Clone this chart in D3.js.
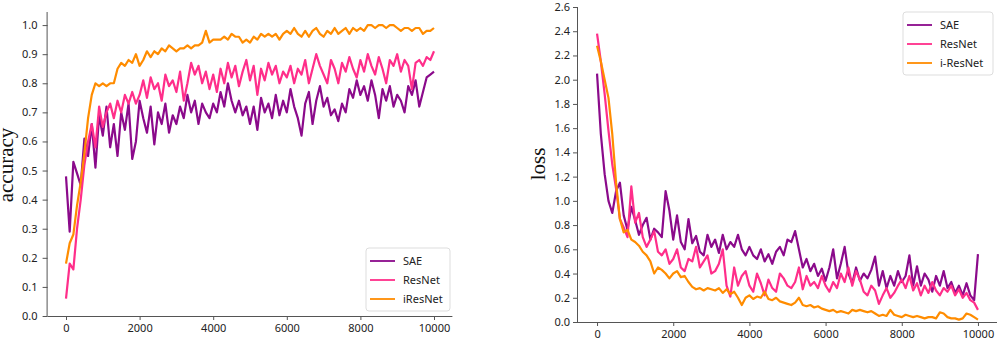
<!DOCTYPE html>
<head>
    <meta charset="utf-8">
    <title>accuracy / loss</title>
    <style>
        body { margin: 0; background: #fff; }
        .tick text { font-family: "Noto Sans", sans-serif; font-size: 11px; fill: #222; }
        .axis path, .axis line { stroke: #555; }
        .legend text { font-family: "Noto Sans", sans-serif; font-size: 11px; fill: #222; }
    </style>
</head>

<body>

<svg width="1003" height="341"></svg>

<script src="https://d3js.org/d3.v7.min.js"></script>

<script>
    // iterations, one reading every 100 steps
    const steps = d3.range(0, 10001, 100);

    const accSAE = [0.48, 0.29, 0.53, 0.49, 0.45, 0.61, 0.55, 0.66, 0.51, 0.69,
        0.62, 0.72, 0.58, 0.66, 0.55, 0.70, 0.64, 0.73, 0.54, 0.60,
        0.74, 0.68, 0.63, 0.72, 0.59, 0.70, 0.66, 0.73, 0.63, 0.69,
        0.66, 0.72, 0.68, 0.76, 0.70, 0.74, 0.66, 0.73, 0.70, 0.68,
        0.73, 0.70, 0.77, 0.72, 0.80, 0.74, 0.70, 0.74, 0.69, 0.72,
        0.66, 0.72, 0.64, 0.75, 0.70, 0.73, 0.68, 0.76, 0.69, 0.74,
        0.70, 0.78, 0.72, 0.68, 0.62, 0.73, 0.77, 0.66, 0.74, 0.79,
        0.72, 0.75, 0.69, 0.71, 0.67, 0.73, 0.70, 0.78, 0.75, 0.81,
        0.76, 0.79, 0.74, 0.81, 0.76, 0.68, 0.78, 0.74, 0.79, 0.72,
        0.76, 0.74, 0.70, 0.79, 0.76, 0.81, 0.72, 0.77, 0.82, 0.83, 0.84];

    const accResNet = [0.06, 0.18, 0.16, 0.30, 0.40, 0.52, 0.60, 0.66, 0.58, 0.72,
        0.65, 0.70, 0.73, 0.68, 0.74, 0.70, 0.76, 0.73, 0.77, 0.73,
        0.76, 0.81, 0.75, 0.82, 0.78, 0.80, 0.74, 0.83, 0.79, 0.81,
        0.77, 0.84, 0.74, 0.80, 0.87, 0.83, 0.86, 0.80, 0.84, 0.78,
        0.83, 0.77, 0.85, 0.80, 0.87, 0.82, 0.86, 0.79, 0.84, 0.88,
        0.81, 0.86, 0.76, 0.85, 0.81, 0.87, 0.83, 0.86, 0.80, 0.84,
        0.82, 0.86, 0.80, 0.85, 0.83, 0.88, 0.80, 0.85, 0.90, 0.86,
        0.83, 0.80, 0.88, 0.85, 0.80, 0.87, 0.84, 0.89, 0.85, 0.82,
        0.88, 0.84, 0.90, 0.86, 0.83, 0.89, 0.85, 0.80, 0.88, 0.86,
        0.90, 0.84, 0.88, 0.86, 0.78, 0.87, 0.88, 0.86, 0.89, 0.88, 0.91];

    const accIResNet = [0.18, 0.25, 0.28, 0.38, 0.46, 0.56, 0.68, 0.76, 0.80, 0.79,
        0.80, 0.79, 0.80, 0.80, 0.85, 0.87, 0.86, 0.88, 0.87, 0.90,
        0.86, 0.88, 0.91, 0.89, 0.91, 0.90, 0.92, 0.91, 0.93, 0.92,
        0.91, 0.92, 0.92, 0.93, 0.92, 0.93, 0.93, 0.94, 0.98, 0.94,
        0.95, 0.95, 0.95, 0.96, 0.95, 0.97, 0.96, 0.96, 0.94, 0.95,
        0.94, 0.96, 0.95, 0.97, 0.96, 0.97, 0.96, 0.97, 0.95, 0.97,
        0.98, 0.97, 0.99, 0.97, 0.96, 0.98, 0.96, 0.98, 0.99, 0.97,
        0.96, 0.98, 0.97, 0.99, 0.97, 0.98, 0.99, 0.97, 0.99, 0.98,
        0.99, 0.98, 1.00, 1.00, 0.99, 1.00, 1.00, 0.99, 1.00, 1.00,
        0.99, 0.98, 0.99, 0.99, 0.98, 0.99, 0.99, 0.97, 0.98, 0.98, 0.99];

    const lossSAE = [2.05, 1.55, 1.22, 1.00, 0.90, 1.08, 1.15, 0.88, 0.76, 0.95,
        0.84, 0.72, 0.80, 0.86, 0.68, 0.77, 0.74, 0.70, 1.08, 0.92,
        0.68, 0.88, 0.66, 0.60, 0.85, 0.65, 0.71, 0.58, 0.55, 0.72,
        0.62, 0.68, 0.57, 0.72, 0.60, 0.66, 0.62, 0.72, 0.60, 0.55,
        0.62, 0.55, 0.52, 0.60, 0.50, 0.56, 0.48, 0.58, 0.62, 0.55,
        0.68, 0.66, 0.75, 0.60, 0.45, 0.52, 0.42, 0.48, 0.38, 0.44,
        0.34, 0.45, 0.60, 0.36, 0.48, 0.62, 0.40, 0.32, 0.45, 0.34,
        0.40, 0.36, 0.43, 0.54, 0.30, 0.42, 0.28, 0.38, 0.30, 0.42,
        0.33, 0.38, 0.55, 0.30, 0.46, 0.30, 0.40, 0.35, 0.25, 0.38,
        0.30, 0.42, 0.28, 0.33, 0.24, 0.30, 0.22, 0.32, 0.22, 0.18, 0.56];

    const lossResNet = [2.38, 2.15, 1.88, 1.58, 1.30, 1.10, 0.85, 0.78, 0.70, 1.12,
        0.82, 0.90, 0.70, 0.62, 0.68, 0.75, 0.58, 0.55, 0.60, 0.48,
        0.52, 0.60, 0.45, 0.42, 0.52, 0.50, 0.62, 0.45, 0.50, 0.55,
        0.40, 0.42, 0.48, 0.60, 0.30, 0.21, 0.45, 0.30, 0.38, 0.42,
        0.30, 0.25, 0.40, 0.32, 0.22, 0.35, 0.28, 0.25, 0.40, 0.36,
        0.30, 0.28, 0.33, 0.45, 0.27, 0.38, 0.30, 0.33, 0.28, 0.38,
        0.30, 0.25, 0.33, 0.28, 0.40, 0.33, 0.45, 0.30, 0.42, 0.35,
        0.25, 0.22, 0.30, 0.26, 0.15, 0.22, 0.28, 0.20, 0.24, 0.30,
        0.35, 0.28, 0.38, 0.26, 0.32, 0.22, 0.30, 0.24, 0.33, 0.26,
        0.22, 0.28, 0.25, 0.30, 0.22, 0.27, 0.20, 0.24, 0.18, 0.16, 0.10];

    const lossIResNet = [2.28, 2.15, 2.00, 1.85, 1.55, 1.15, 0.85, 0.74, 0.76, 0.68,
        0.66, 0.63, 0.58, 0.55, 0.50, 0.40, 0.45, 0.43, 0.40, 0.36,
        0.40, 0.42, 0.37, 0.38, 0.33, 0.29, 0.27, 0.28, 0.26, 0.28,
        0.27, 0.26, 0.28, 0.24, 0.27, 0.23, 0.25, 0.20, 0.14, 0.20,
        0.22, 0.19, 0.21, 0.20, 0.25, 0.19, 0.18, 0.20, 0.17, 0.16,
        0.15, 0.14, 0.16, 0.20, 0.14, 0.13, 0.14, 0.12, 0.13, 0.11,
        0.10, 0.09, 0.10, 0.08, 0.09, 0.08, 0.07, 0.10, 0.09, 0.10,
        0.09, 0.08, 0.09, 0.07, 0.05, 0.06, 0.05, 0.10, 0.06, 0.05,
        0.04, 0.06, 0.05, 0.04, 0.05, 0.04, 0.03, 0.04, 0.04, 0.03,
        0.08, 0.07, 0.04, 0.03, 0.03, 0.02, 0.03, 0.07, 0.06, 0.04, 0.02];

    const accNames = ["SAE", "ResNet", "iResNet"];
    const lossNames = ["SAE", "ResNet", "i-ResNet"];
    const colors = ["#8b0a8b", "#ff2e8a", "#ff8c00"];

    const svg = d3.select("svg");

    function drawPanel(opt) {
        const x = d3.scaleLinear().domain([-500, 10500]).range(opt.xRange);
        const y = d3.scaleLinear().domain(opt.yDomain).range(opt.yRange);

        const g = svg.append("g");

        const line = d3.line()
            .x((d, i) => x(steps[i]))
            .y(d => y(d));

        g.selectAll(".series")
            .data(opt.series)
            .enter().append("path")
            .attr("class", "series")
            .attr("fill", "none")
            .attr("stroke", (d, i) => colors[i])
            .attr("stroke-width", 2.2)
            .attr("stroke-linejoin", "round")
            .attr("d", d => line(d));

        g.append("g")
            .attr("class", "axis")
            .attr("transform", `translate(0,${opt.yRange[0]})`)
            .call(d3.axisBottom(x).tickValues([0, 2000, 4000, 6000, 8000, 10000])
                .tickSize(4).tickPadding(4).tickFormat(d3.format("d")))
            .call(a => a.select(".domain").attr("d", `M${opt.xRange[0]},0.5H${opt.xRange[1]}`));

        g.append("g")
            .attr("class", "axis")
            .attr("transform", `translate(${opt.xRange[0]},0)`)
            .call(d3.axisLeft(y).tickValues(opt.yTicks).tickSize(5).tickPadding(opt.yPad)
                .tickFormat(d3.format(".1f")))
            .call(a => a.select(".domain").attr("d", `M-0.5,${opt.yRange[0]}V${opt.yRange[1]}`));

        g.append("text")
            .attr("transform", `translate(${opt.labelX},${opt.labelY}) rotate(-90)`)
            .attr("text-anchor", "middle")
            .style("font-family", "'Liberation Serif', 'Times New Roman', serif")
            .style("font-size", "21px")
            .style("fill", "#111")
            .text(opt.label);

        // legend
        const lg = g.append("g")
            .attr("class", "legend")
            .attr("transform", `translate(${opt.legend[0]},${opt.legend[1]})`);

        lg.append("rect")
            .attr("width", opt.legendW)
            .attr("height", 63)
            .attr("rx", 3)
            .attr("fill", "#fff")
            .attr("stroke", "#ddd");

        const item = lg.selectAll(".item")
            .data(opt.names)
            .enter().append("g")
            .attr("class", "item")
            .attr("transform", (d, i) => `translate(0,${13 + i * 19})`);

        item.append("line")
            .attr("x1", 4).attr("x2", 29)
            .attr("stroke", (d, i) => colors[i])
            .attr("stroke-width", 1.8);

        item.append("text")
            .attr("x", 37)
            .attr("dy", "0.35em")
            .text(d => d);
    }

    drawPanel({
        series: [accSAE, accResNet, accIResNet],
        names: accNames,
        xRange: [47.6, 452.4],
        yDomain: [0, 1.045],
        yRange: [316, 12],
        yTicks: d3.range(0, 1.01, 0.1),
        yPad: 5,
        label: "accuracy",
        labelX: 13,
        labelY: 165,
        legend: [366, 248],
        legendW: 84
    });

    drawPanel({
        series: [lossSAE, lossResNet, lossIResNet],
        names: lossNames,
        xRange: [578, 997],
        yDomain: [0, 2.6],
        yRange: [322, 7],
        yTicks: d3.range(0, 2.61, 0.2),
        yPad: 3,
        label: "loss",
        labelX: 545,
        labelY: 164,
        legend: [903, 12],
        legendW: 90
    });
</script>

</body>
